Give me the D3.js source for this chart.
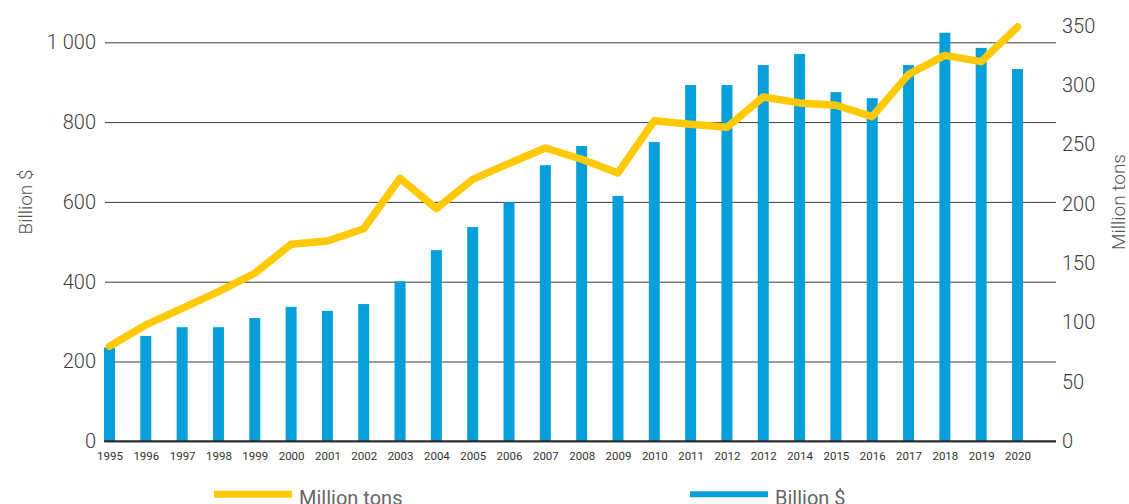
<!DOCTYPE html>
<html>
<head>
<meta charset="utf-8">
<script src="https://cdn.jsdelivr.net/npm/d3@7"></script>
<style>
  html, body { margin: 0; padding: 0; background: #fff; }
  svg { display: block; }
  text { font-family: Roboto, "Noto Sans", sans-serif; }
</style>
</head>
<body>
<svg id="chart" width="1129" height="504"></svg>
<script>
// ---- data ----
const years = ["1995","1996","1997","1998","1999","2000","2001","2002","2003","2004",
               "2005","2006","2007","2008","2009","2010","2011","2012","2012","2014",
               "2015","2016","2017","2018","2019","2020"];
const billionUSD = [235, 264, 286, 286, 309, 337, 327, 344, 401, 479,
                    537, 599, 692, 740, 615, 750, 893, 893, 943, 971,
                    875, 860, 943, 1024, 986, 933];
const millionTons = [80, 98, 112, 126, 141.5, 166, 168.7, 179, 221.5, 196,
                     220.6, 234, 247, 237.5, 226, 270, 267, 264.4, 290, 285,
                     283, 273.4, 309, 325, 319.7, 349];
const leftTicks = [0, 200, 400, 600, 800, 1000];
const rightTicks = [0, 50, 100, 150, 200, 250, 300, 350];
const seriesNames = ["Million tons", "Billion $"];
const colors = { tons: "#FFCA05", usd: "#079FDA" };

// ---- layout ----
const svg = d3.select("#chart");
const plotLeft = 105, plotRight = 1056;
const x = d3.scalePoint().domain(d3.range(years.length)).range([109.5, 1017.5]);
const yL = d3.scaleLinear().domain([0, 1000]).range([441.3, 42.3]);
const yR = d3.scaleLinear().domain([0, 350]).range([441.3, 25.7]);
const barW = 11;

const fmt = d3.formatLocale({decimal: ".", thousands: " ", grouping: [3], currency: ["", ""]}).format(",");

// left axis with gridlines
const gL = svg.append("g").attr("transform", `translate(${plotLeft},0)`)
  .call(d3.axisLeft(yL).tickValues(leftTicks).tickFormat(fmt)
        .tickSizeInner(-(plotRight - plotLeft)).tickSizeOuter(0).tickPadding(9));
gL.select(".domain").remove();
gL.selectAll(".tick line").attr("stroke", "#3a3a3a").attr("stroke-width", 1);
gL.selectAll(".tick text").attr("font-size", 20).attr("font-weight", 300)
  .attr("fill", "#3d3d3d").attr("font-family", "Roboto, sans-serif");

// right axis
const gR = svg.append("g").attr("transform", `translate(${plotRight},0)`)
  .call(d3.axisRight(yR).tickValues(rightTicks).tickSize(0).tickPadding(6));
gR.select(".domain").remove();
gR.selectAll(".tick text").attr("font-size", 20).attr("font-weight", 300)
  .attr("fill", "#3d3d3d").attr("font-family", "Roboto, sans-serif");

// bars
svg.append("g").selectAll("rect").data(billionUSD).join("rect")
  .attr("x", (d, i) => x(i) - barW / 2)
  .attr("width", barW)
  .attr("y", d => yL(d))
  .attr("height", d => yL(0) - yL(d))
  .attr("fill", colors.usd);

// baseline
svg.append("line")
  .attr("x1", plotLeft - 1).attr("x2", plotRight)
  .attr("y1", yL(0)).attr("y2", yL(0))
  .attr("stroke", "#2a2a2a").attr("stroke-width", 2);

// bottom axis labels
const gX = svg.append("g").attr("transform", `translate(0,${yL(0)})`)
  .call(d3.axisBottom(x).tickFormat(i => years[i]).tickSize(0).tickPadding(11));
gX.select(".domain").remove();
gX.selectAll(".tick text").attr("font-size", 11.5).attr("fill", "#333")
  .attr("font-family", "Roboto, sans-serif");

// line
const line = d3.line().x((d, i) => x(i)).y(d => yR(d));
svg.append("path").datum(millionTons)
  .attr("d", line)
  .attr("fill", "none")
  .attr("stroke", colors.tons)
  .attr("stroke-width", 7.5)
  .attr("stroke-linejoin", "round")
  .attr("stroke-linecap", "round");

// axis titles
svg.append("text")
  .attr("transform", "translate(31.5,202) rotate(-90)")
  .attr("text-anchor", "middle")
  .attr("font-size", 19).attr("font-weight", 300).attr("fill", "#555")
  .text("Billion $");
svg.append("text")
  .attr("transform", "translate(1125,202) rotate(-90)")
  .attr("text-anchor", "middle")
  .attr("font-size", 19).attr("font-weight", 300).attr("fill", "#555")
  .text("Million tons");

// legend
const legend = [
  {name: seriesNames[0], color: colors.tons, x1: 214, x2: 292, sw: 7},
  {name: seriesNames[1], color: colors.usd, x1: 690, x2: 768, sw: 6}
];
const lg = svg.append("g").selectAll("g").data(legend).join("g");
lg.append("line")
  .attr("x1", d => d.x1).attr("x2", d => d.x2)
  .attr("y1", 494.3).attr("y2", 494.3)
  .attr("stroke", d => d.color).attr("stroke-width", d => d.sw);
lg.append("text")
  .attr("x", d => d.x2 + 7).attr("y", 504.5)
  .attr("font-size", 20).attr("font-weight", 400).attr("fill", "#666")
  .text(d => d.name);
</script>
</body>
</html>
